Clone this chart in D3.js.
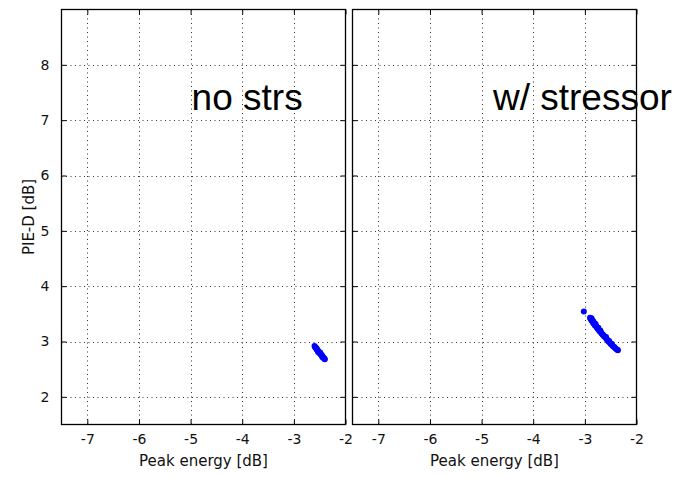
<!DOCTYPE html>
<html>
<head>
<meta charset="utf-8">
<script src="https://cdn.jsdelivr.net/npm/d3@7"></script>
<style>
  body { margin: 0; background: #fff; }
  svg { display: block; }
</style>
</head>
<body>
<div id="chart"></div>
<script>
// ---- data ----
var xTicks = [-7, -6, -5, -4, -3, -2];
var yTicks = [2, 3, 4, 5, 6, 7, 8];
var xDomain = [-7.5, -2];
var yDomain = [1.5, 9];

var panelTitles = ["no strs", "w/ stressor"];
var titleX = [-4.98, -4.78];
var titleY = [7.18, 7.18];

// no stressor: [peak energy, PIE-D]
var noStrsPoints = [
  [-2.60, 2.92], [-2.59, 2.90], [-2.58, 2.89], [-2.57, 2.88], [-2.56, 2.86],
  [-2.55, 2.85], [-2.54, 2.84], [-2.53, 2.83], [-2.52, 2.81], [-2.51, 2.80],
  [-2.50, 2.79], [-2.49, 2.78], [-2.48, 2.77], [-2.47, 2.76], [-2.46, 2.75],
  [-2.45, 2.74], [-2.44, 2.72], [-2.43, 2.71], [-2.42, 2.70], [-2.41, 2.69],
  [-2.40, 2.68], [-2.56, 2.88], [-2.53, 2.81], [-2.49, 2.80], [-2.45, 2.72]
];

// with stressor
var stressorPoints = [
  [-3.02, 3.54],
  [-2.90, 3.43], [-2.89, 3.41], [-2.88, 3.40], [-2.87, 3.38], [-2.86, 3.37],
  [-2.85, 3.36], [-2.84, 3.34], [-2.83, 3.33], [-2.82, 3.32], [-2.81, 3.30],
  [-2.80, 3.29], [-2.78, 3.27], [-2.77, 3.26], [-2.76, 3.24], [-2.75, 3.23],
  [-2.73, 3.21], [-2.72, 3.20], [-2.71, 3.18], [-2.69, 3.17], [-2.68, 3.15],
  [-2.66, 3.13], [-2.65, 3.12], [-2.63, 3.10], [-2.62, 3.09], [-2.60, 3.07],
  [-2.58, 3.05], [-2.57, 3.03], [-2.55, 3.01], [-2.54, 3.00], [-2.52, 2.98],
  [-2.50, 2.96], [-2.49, 2.95], [-2.47, 2.93], [-2.45, 2.91], [-2.43, 2.90],
  [-2.41, 2.88], [-2.39, 2.86], [-2.37, 2.85], [-2.36, 2.84],
  [-2.87, 3.42], [-2.84, 3.37], [-2.81, 3.33], [-2.79, 3.31], [-2.74, 3.25],
  [-2.70, 3.20], [-2.64, 3.11], [-2.59, 3.08], [-2.53, 3.01], [-2.48, 2.96]
];

var xLabel = "Peak energy [dB]";
var yLabel = "PIE-D [dB]";

// ---- layout ----
var W = 682, H = 477;
var panels = [
  { left: 61.5, right: 345.5, data: noStrsPoints, yLabels: true },
  { left: 352.5, right: 636.5, data: stressorPoints, yLabels: false }
];
var plotTop = 9.5, plotBottom = 424.5;
var tickLen = 5;
var tickFont = '14px "DejaVu Sans", sans-serif';
var labelFont = '15px "DejaVu Sans", sans-serif';
var plainNum = function (d) { return String(d); };

var svg = d3.select("#chart").append("svg")
    .attr("width", W)
    .attr("height", H);

panels.forEach(function (p, i) {
    var x = d3.scaleLinear().domain(xDomain).range([p.left, p.right]);
    var y = d3.scaleLinear().domain(yDomain).range([plotBottom, plotTop]);
    var g = svg.append("g");

    // dotted grid
    g.append("g").selectAll("line")
        .data(xTicks.slice(0, -1))
        .enter().append("line")
        .attr("x1", function (d) { return Math.round(x(d)) + 0.5; })
        .attr("x2", function (d) { return Math.round(x(d)) + 0.5; })
        .attr("y1", plotTop).attr("y2", plotBottom)
        .style("stroke", "#333")
        .style("stroke-dasharray", "1,3.5");
    g.append("g").selectAll("line")
        .data(yTicks)
        .enter().append("line")
        .attr("y1", function (d) { return Math.round(y(d)) + 0.5; })
        .attr("y2", function (d) { return Math.round(y(d)) + 0.5; })
        .attr("x1", p.left).attr("x2", p.right)
        .style("stroke", "#333")
        .style("stroke-dasharray", "1,3.5");

    // axes (ticks point inward)
    var bottomAxis = g.append("g")
        .attr("transform", "translate(0," + plotBottom + ")")
        .call(d3.axisBottom(x).tickValues(xTicks).tickSizeInner(-tickLen).tickSizeOuter(0)
            .tickPadding(10).tickFormat(plainNum));
    var topAxis = g.append("g")
        .attr("transform", "translate(0," + plotTop + ")")
        .call(d3.axisTop(x).tickValues(xTicks).tickSizeInner(-tickLen).tickSizeOuter(0)
            .tickFormat(""));
    var leftAxis = g.append("g")
        .attr("transform", "translate(" + p.left + ",0)")
        .call(d3.axisLeft(y).tickValues(yTicks).tickSizeInner(-tickLen).tickSizeOuter(0)
            .tickPadding(12).tickFormat(p.yLabels ? plainNum : ""));
    var rightAxis = g.append("g")
        .attr("transform", "translate(" + p.right + ",0)")
        .call(d3.axisRight(y).tickValues(yTicks).tickSizeInner(-tickLen).tickSizeOuter(0)
            .tickFormat(""));

    [bottomAxis, topAxis, leftAxis, rightAxis].forEach(function (a) {
        a.select(".domain").remove();
        a.selectAll("line").style("stroke", "#000");
        a.selectAll("text").style("font", tickFont).style("fill", "#111");
    });

    // box
    g.append("rect")
        .attr("x", p.left).attr("y", plotTop)
        .attr("width", p.right - p.left).attr("height", plotBottom - plotTop)
        .style("fill", "none")
        .style("stroke", "#000")
        .style("stroke-width", 1.3);

    // points
    g.append("g").selectAll("circle")
        .data(p.data)
        .enter().append("circle")
        .attr("cx", function (d) { return x(d[0]); })
        .attr("cy", function (d) { return y(d[1]); })
        .attr("r", 3)
        .style("fill", "#0000ff");

    // panel text
    g.append("text")
        .attr("x", x(titleX[i]))
        .attr("y", y(titleY[i]))
        .style("font", '37px "Liberation Sans", Arial, sans-serif')
        .style("fill", "#000")
        .text(panelTitles[i]);

    // x label
    g.append("text")
        .attr("x", (p.left + p.right) / 2)
        .attr("y", 466)
        .attr("text-anchor", "middle")
        .style("font", labelFont)
        .style("fill", "#111")
        .text(xLabel);
});

svg.append("text")
    .attr("transform", "translate(34," + ((plotTop + plotBottom) / 2) + ") rotate(-90)")
    .attr("text-anchor", "middle")
    .style("font", labelFont)
    .style("fill", "#111")
    .text(yLabel);
</script>
</body>
</html>
